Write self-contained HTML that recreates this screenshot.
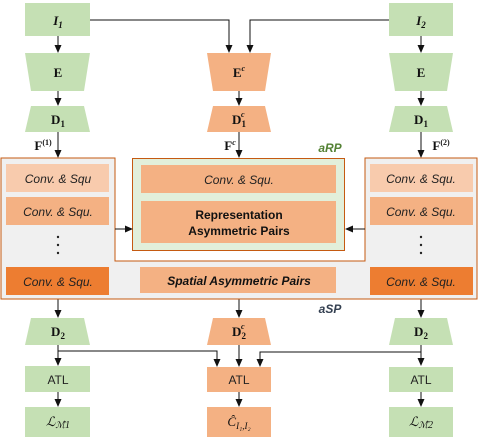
<!DOCTYPE html>
<html><head><style>body{margin:0;background:#fff}svg{display:block}</style></head><body>
<svg width="478" height="446" viewBox="0 0 478 446" xmlns="http://www.w3.org/2000/svg">
<defs><marker id="a" markerWidth="8" markerHeight="8" refX="7" refY="4" orient="auto" markerUnits="userSpaceOnUse"><path d="M0,0.5 L8,4 L0,7.5 z" fill="#111"/></marker></defs>
<g font-family="Liberation Serif, serif" font-weight="bold" font-size="13" text-anchor="middle" fill="#111">
<rect x="25" y="3" width="65" height="33" fill="#c5e0b4"/>
<text x="58" y="25" font-style="italic">I<tspan font-size="9" dy="3">1</tspan></text>
<rect x="389" y="3" width="64" height="33" fill="#c5e0b4"/>
<text x="421" y="25" font-style="italic">I<tspan font-size="9" dy="3">2</tspan></text>
<path d="M25,53 H90 L84,91 H31 Z" fill="#c5e0b4"/>
<text x="58" y="77">E</text>
<path d="M207,53 H271 L265,91 H213 Z" fill="#f4b183"/>
<text x="239" y="77">E<tspan font-size="8" dy="-6" font-style="italic">c</tspan></text>
<path d="M389,53 H453 L447,91 H395 Z" fill="#c5e0b4"/>
<text x="421" y="77">E</text>
<path d="M31,106 H84 L90,132 H25 Z" fill="#c5e0b4"/>
<text x="58" y="124">D<tspan font-size="9" dy="3">1</tspan></text>
<path d="M213,106 H265 L271,132 H207 Z" fill="#f4b183"/>
<text x="239" y="124">D<tspan font-size="9" dy="3">1</tspan><tspan font-size="8" dx="-5" dy="-10" font-style="italic">c</tspan></text>
<path d="M395,106 H447 L453,132 H389 Z" fill="#c5e0b4"/>
<text x="421" y="124">D<tspan font-size="9" dy="3">1</tspan></text>
<text x="43" y="150">F<tspan font-size="8" dy="-5">(1)</tspan></text>
<text x="230" y="150">F<tspan font-size="8" dy="-5" font-style="italic">c</tspan></text>
<text x="441" y="150">F<tspan font-size="8" dy="-5">(2)</tspan></text>
</g>
<g stroke="#111" stroke-width="1" fill="none" marker-end="url(#a)">
<path d="M58,36 V52"/><path d="M90,20 H229 V52"/><path d="M389,20 H250 V52"/>
<path d="M421,36 V52"/><path d="M58,91 V105"/><path d="M239,91 V105"/><path d="M421,91 V105"/>
<path d="M58,132 V157"/><path d="M239,132 V157"/><path d="M421,132 V157"/>
<path d="M58,299 V317"/><path d="M239,299 V317"/><path d="M421,299 V317"/>
<path d="M58,345 V365"/><path d="M58,351 H217 V366"/><path d="M239,345 V366"/>
<path d="M421,345 V365"/><path d="M421,352 H260 V366"/>
<path d="M58,392 V406"/><path d="M239,392 V406"/><path d="M421,392 V406"/>
</g>
<path d="M1,158 H115 V261 H365 V158 H477 V299 H1 Z" fill="#f0f0f0" stroke="#c55a11" stroke-width="1"/>
<rect x="132.5" y="158.5" width="212" height="92" fill="#e2efda" stroke="#c55a11"/>
<path d="M115,229 H132" stroke="#111" marker-end="url(#a)"/><path d="M365,229 H346" stroke="#111" marker-end="url(#a)"/>
<g fill="#222"><circle cx="58" cy="237" r="1.2"/><circle cx="58" cy="245" r="1.2"/><circle cx="58" cy="253" r="1.2"/>
<circle cx="421" cy="237" r="1.2"/><circle cx="421" cy="245" r="1.2"/><circle cx="421" cy="253" r="1.2"/></g>
<g font-family="Liberation Sans, sans-serif" font-size="12" text-anchor="middle" fill="#222">
<rect x="6" y="164" width="103" height="28" fill="#f8cbad"/><text x="58" y="183" font-style="italic">Conv. &amp; Squ</text>
<rect x="6" y="197" width="103" height="28" fill="#f4b183"/><text x="58" y="216" font-style="italic">Conv. &amp; Squ.</text>
<rect x="6" y="267" width="103" height="28" fill="#ed7d31"/><text x="58" y="286" font-style="italic">Conv. &amp; Squ.</text>
<rect x="370" y="164" width="103" height="28" fill="#f8cbad"/><text x="421" y="183" font-style="italic">Conv. &amp; Squ.</text>
<rect x="370" y="197" width="103" height="28" fill="#f4b183"/><text x="421" y="216" font-style="italic">Conv. &amp; Squ.</text>
<rect x="370" y="267" width="103" height="28" fill="#ed7d31"/><text x="421" y="286" font-style="italic">Conv. &amp; Squ.</text>
<rect x="141" y="165" width="195" height="28" fill="#f4b183"/><text x="239" y="184" font-style="italic">Conv. &amp; Squ.</text>
<rect x="141" y="201" width="195" height="42" fill="#f4b183"/>
<text x="239" y="219" font-weight="bold" fill="#111">Representation</text><text x="239" y="235" font-weight="bold" fill="#111">Asymmetric Pairs</text>
<rect x="140" y="267" width="196" height="26" fill="#f4b183"/><text x="239" y="285" font-weight="bold" font-style="italic" fill="#111">Spatial Asymmetric Pairs</text>
<text x="330" y="152" font-weight="bold" font-style="italic" fill="#548235">aRP</text>
<text x="330" y="313" font-weight="bold" font-style="italic" fill="#333f50">aSP</text>
<rect x="25" y="366" width="65" height="26" fill="#c5e0b4"/><text x="58" y="384">ATL</text>
<rect x="207" y="367" width="64" height="25" fill="#f4b183"/><text x="239" y="384">ATL</text>
<rect x="389" y="367" width="64" height="25" fill="#c5e0b4"/><text x="421" y="384">ATL</text>
</g>
<g font-family="Liberation Serif, serif" font-weight="bold" font-size="13" text-anchor="middle" fill="#111">
<path d="M31,318 H84 L90,345 H25 Z" fill="#c5e0b4"/><text x="58" y="336">D<tspan font-size="9" dy="3">2</tspan></text>
<path d="M213,318 H265 L271,345 H207 Z" fill="#f4b183"/><text x="239" y="336">D<tspan font-size="9" dy="3">2</tspan><tspan font-size="8" dx="-5" dy="-10" font-style="italic">c</tspan></text>
<path d="M395,318 H447 L453,345 H389 Z" fill="#c5e0b4"/><text x="421" y="336">D<tspan font-size="9" dy="3">2</tspan></text>
<rect x="25" y="407" width="65" height="30" fill="#c5e0b4"/><text x="58" y="426" font-style="italic" font-weight="normal">ℒ<tspan font-size="9" dy="2">ℳ̂</tspan><tspan font-size="10">1</tspan></text>
<rect x="207" y="407" width="64" height="30" fill="#f4b183"/><text x="239" y="426" font-style="italic" font-weight="normal">Ĉ<tspan font-size="9" dy="3">I₁,I₂</tspan></text>
<rect x="389" y="407" width="64" height="30" fill="#c5e0b4"/><text x="421" y="426" font-style="italic" font-weight="normal">ℒ<tspan font-size="9" dy="2">ℳ̂</tspan><tspan font-size="10">2</tspan></text>
</g>
</svg>
</body></html>
